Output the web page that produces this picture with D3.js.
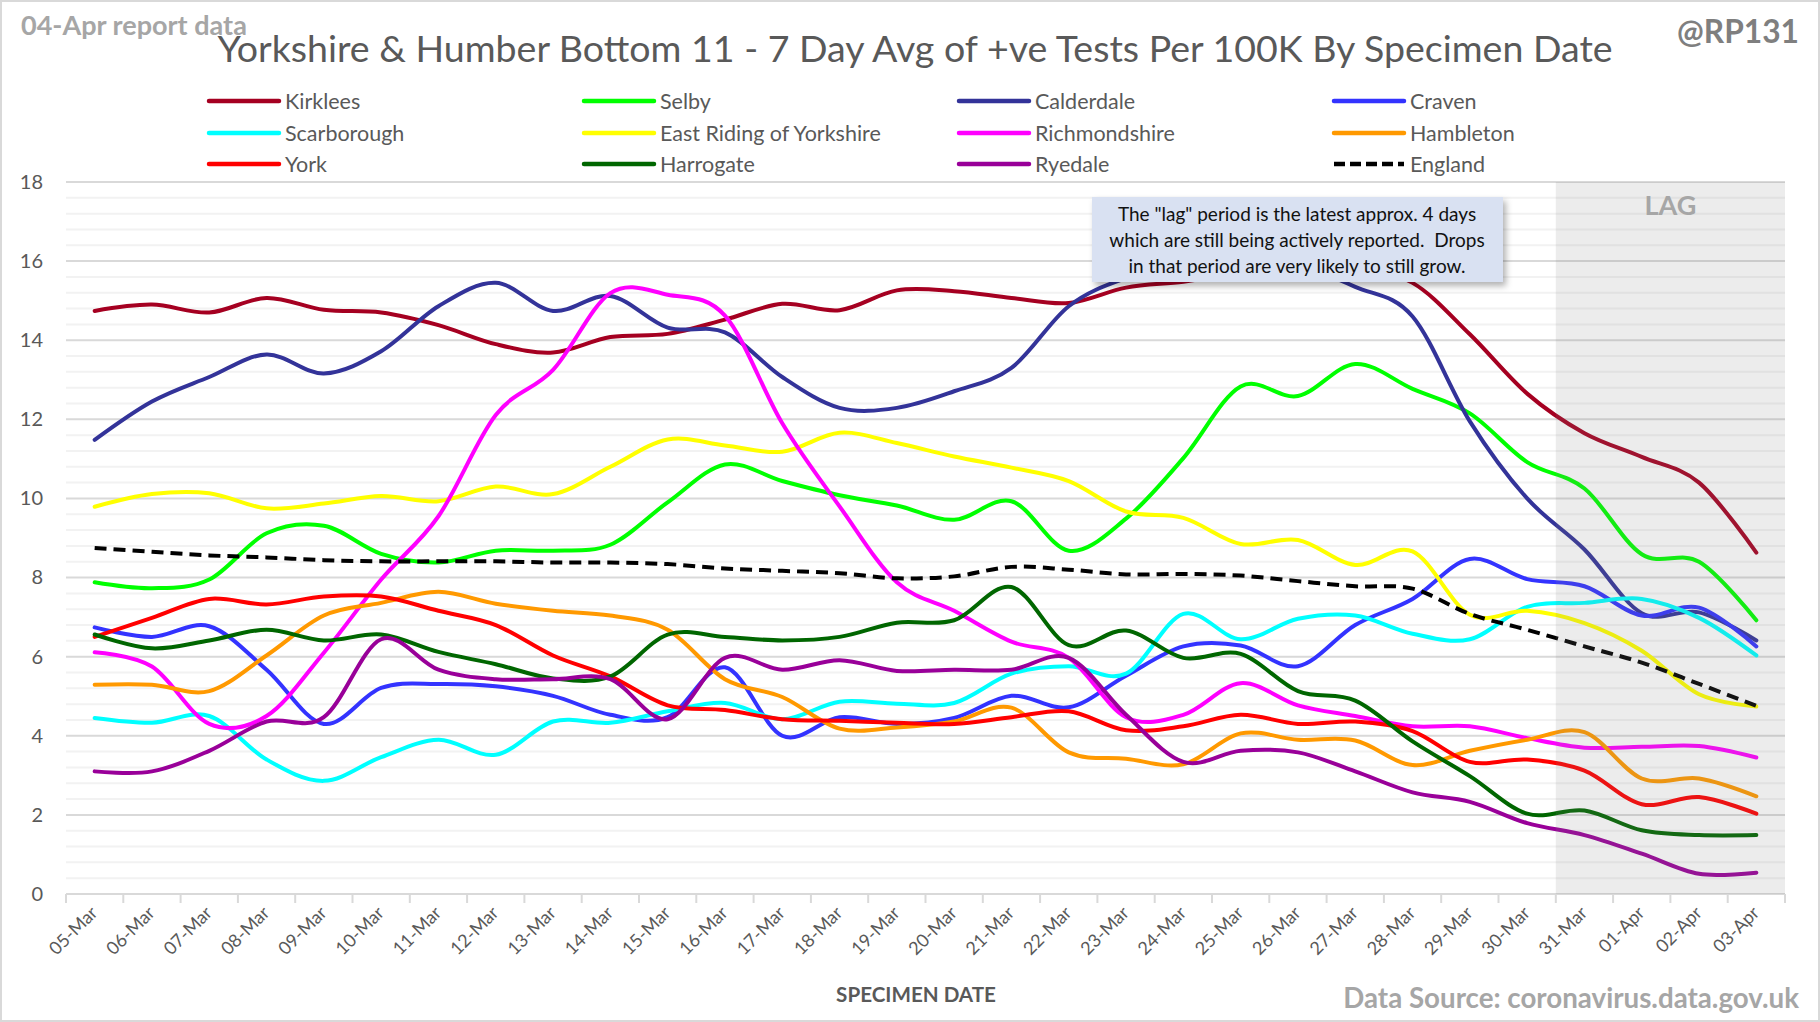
<!DOCTYPE html>
<html>
<head>
<meta charset="utf-8">
<script src="https://cdn.jsdelivr.net/npm/d3@7"></script>
<style>
  body { margin: 0; background: #fff; }
  svg text { font-family: Lato, "Open Sans", sans-serif; }
</style>
</head>
<body>
<div id="chart"></div>
<script>
// specimen dates (x categories)
const dates = ["05-Mar","06-Mar","07-Mar","08-Mar","09-Mar","10-Mar","11-Mar","12-Mar","13-Mar","14-Mar",
  "15-Mar","16-Mar","17-Mar","18-Mar","19-Mar","20-Mar","21-Mar","22-Mar","23-Mar","24-Mar",
  "25-Mar","26-Mar","27-Mar","28-Mar","29-Mar","30-Mar","31-Mar","01-Apr","02-Apr","03-Apr"];

// 7 day avg of +ve tests per 100K
const kirklees    = [14.74,14.9,14.7,15.07,14.77,14.7,14.38,13.9,13.69,14.08,14.16,14.52,14.92,14.76,15.26,15.24,15.07,14.94,15.33,15.48,15.7,15.9,15.8,15.45,14.15,12.65,11.65,11.05,10.4,8.63];
const selby       = [7.88,7.73,7.95,9.12,9.31,8.6,8.38,8.68,8.68,8.83,9.9,10.86,10.44,10.08,9.82,9.46,9.93,8.68,9.49,11.02,12.83,12.59,13.4,12.77,12.15,10.92,10.25,8.59,8.4,6.92];
const calderdale  = [11.48,12.45,13.07,13.64,13.16,13.72,14.86,15.45,14.74,15.12,14.32,14.2,13.07,12.29,12.29,12.71,13.3,14.86,15.57,15.9,16.1,15.9,15.35,14.6,11.95,10.0,8.71,7.1,7.12,6.41];
const craven      = [6.74,6.5,6.77,5.67,4.3,5.21,5.31,5.25,5.01,4.53,4.47,5.73,4.0,4.47,4.3,4.45,5.01,4.72,5.52,6.26,6.28,5.76,6.8,7.46,8.47,7.96,7.78,7.04,7.24,6.26];
const scarborough = [4.45,4.33,4.5,3.4,2.86,3.46,3.9,3.52,4.36,4.33,4.62,4.83,4.42,4.86,4.81,4.83,5.57,5.76,5.57,7.08,6.44,6.96,7.04,6.58,6.44,7.26,7.36,7.46,6.98,6.03];
const eastRiding  = [9.79,10.11,10.13,9.75,9.87,10.06,9.93,10.3,10.11,10.8,11.49,11.34,11.18,11.66,11.4,11.06,10.78,10.44,9.67,9.51,8.85,8.95,8.32,8.66,7.06,7.16,6.85,6.15,5.05,4.74];
const richmond    = [6.11,5.75,4.3,4.5,6.1,7.95,9.55,12.11,13.25,15.19,15.15,14.62,11.9,9.8,7.88,7.16,6.38,5.97,4.47,4.53,5.33,4.77,4.5,4.24,4.24,3.94,3.7,3.72,3.74,3.45];
const hambleton   = [5.29,5.29,5.13,6.03,7.04,7.36,7.64,7.34,7.16,7.04,6.68,5.43,4.98,4.18,4.21,4.36,4.71,3.58,3.42,3.28,4.06,3.9,3.88,3.26,3.62,3.9,4.09,2.92,2.92,2.47];
const york        = [6.5,6.98,7.46,7.32,7.52,7.52,7.16,6.8,6.03,5.5,4.77,4.65,4.42,4.38,4.33,4.3,4.47,4.62,4.14,4.24,4.53,4.3,4.36,4.12,3.34,3.4,3.12,2.27,2.45,2.03];
const harrogate   = [6.56,6.21,6.41,6.68,6.41,6.56,6.12,5.81,5.45,5.5,6.56,6.5,6.41,6.5,6.86,6.92,7.76,6.29,6.66,5.97,6.07,5.13,4.89,3.86,2.98,2.03,2.11,1.61,1.49,1.49];
const ryedale     = [3.1,3.1,3.62,4.36,4.47,6.44,5.67,5.43,5.43,5.43,4.42,5.97,5.67,5.91,5.64,5.67,5.67,5.97,4.53,3.34,3.62,3.58,3.1,2.57,2.33,1.79,1.49,1.02,0.51,0.54];
const england     = [8.75,8.65,8.56,8.51,8.44,8.41,8.41,8.41,8.38,8.38,8.34,8.23,8.17,8.11,7.98,8.03,8.27,8.2,8.08,8.09,8.05,7.91,7.78,7.72,7.08,6.68,6.26,5.85,5.31,4.76];

const yTicks = [0,2,4,6,8,10,12,14,16,18];
const lagDays = ["31-Mar","01-Apr","02-Apr","03-Apr"];

// series in legend / draw order
const series = [
  {name: "Kirklees", values: kirklees, color: "#a50021"},
  {name: "Selby", values: selby, color: "#00ff00"},
  {name: "Calderdale", values: calderdale, color: "#333399"},
  {name: "Craven", values: craven, color: "#3333ff"},
  {name: "Scarborough", values: scarborough, color: "#00ffff"},
  {name: "East Riding of Yorkshire", values: eastRiding, color: "#ffff00"},
  {name: "Richmondshire", values: richmond, color: "#ff00ff"},
  {name: "Hambleton", values: hambleton, color: "#ff9900"},
  {name: "York", values: york, color: "#ff0000"},
  {name: "Harrogate", values: harrogate, color: "#006600"},
  {name: "Ryedale", values: ryedale, color: "#990099"},
  {name: "England", values: england, color: "#000000", dash: "12,7"}
];

const W = 1820, H = 1022;
const margin = {top: 182, right: 35, bottom: 128, left: 66};

const svg = d3.select("#chart").append("svg")
  .attr("width", W)
  .attr("height", H);

// outer border
svg.append("rect")
  .attr("x", 1).attr("y", 1)
  .attr("width", W - 2).attr("height", H - 2)
  .attr("fill", "#fff")
  .attr("stroke", "#d9d9d9")
  .attr("stroke-width", 2);

// scales
const x = d3.scaleBand()
  .domain(dates)
  .range([margin.left, W - margin.right])
  .padding(0);

const y = d3.scaleLinear()
  .domain([0, 18])
  .range([H - margin.bottom, margin.top]);

const cx = d => x(d) + x.bandwidth() / 2;

// shrink/grow a text so that it spans the given width
function fitWidth(sel, w) {
  const cur = sel.node().getComputedTextLength();
  const fs = parseFloat(sel.attr("font-size"));
  sel.attr("font-size", fs * w / cur);
}

// gridlines: minor every 0.4, major every 2
svg.append("g")
  .selectAll("line")
  .data(d3.range(1, 45).map(i => i * 0.4).filter(v => Math.abs(v / 2 - Math.round(v / 2)) > 0.01))
  .join("line")
  .attr("x1", margin.left).attr("x2", W - margin.right)
  .attr("y1", d => y(d)).attr("y2", d => y(d))
  .attr("stroke", "#f2f2f2")
  .attr("stroke-width", 2);

svg.append("g")
  .selectAll("line")
  .data(yTicks)
  .join("line")
  .attr("x1", margin.left).attr("x2", W - margin.right)
  .attr("y1", d => y(d)).attr("y2", d => y(d))
  .attr("stroke", "#d9d9d9")
  .attr("stroke-width", 2);

// y axis labels
const yAxis = d3.axisLeft(y).tickValues(yTicks).tickSize(0).tickPadding(23);
const gy = svg.append("g")
  .attr("transform", "translate(" + margin.left + ",0)")
  .call(yAxis);
gy.select(".domain").remove();
gy.selectAll("text")
  .attr("font-family", "Lato, sans-serif")
  .attr("font-size", 20)
  .attr("fill", "#595959");

// x axis: labels rotated, ticks between categories
const xAxis = d3.axisBottom(x).tickSize(0);
const gx = svg.append("g")
  .attr("transform", "translate(0," + y(0) + ")")
  .call(xAxis);
gx.select(".domain").remove();
gx.selectAll("text")
  .attr("y", 0).attr("dy", null)
  .attr("font-family", "Lato, sans-serif")
  .attr("font-size", 18)
  .attr("fill", "#595959")
  .attr("text-anchor", "end")
  .attr("transform", "translate(4,20) rotate(-45)");

svg.append("line")
  .attr("x1", margin.left).attr("x2", W - margin.right)
  .attr("y1", y(0)).attr("y2", y(0))
  .attr("stroke", "#d9d9d9").attr("stroke-width", 2);

svg.append("g")
  .selectAll("line")
  .data(dates.map(d => x(d)).concat([x.range()[1]]))
  .join("line")
  .attr("x1", d => d).attr("x2", d => d)
  .attr("y1", y(0)).attr("y2", y(0) + 9)
  .attr("stroke", "#d9d9d9").attr("stroke-width", 2);

// lines
const line = d3.line()
  .x((v, i) => cx(dates[i]))
  .y(v => y(v))
  .curve(d3.curveCardinal.tension(0));

svg.append("g")
  .selectAll("path")
  .data(series)
  .join("path")
  .attr("d", d => line(d.values))
  .attr("fill", "none")
  .attr("stroke", d => d.color)
  .attr("stroke-width", 4)
  .attr("stroke-linecap", d => d.dash ? "butt" : "round")
  .attr("stroke-dasharray", d => d.dash || null);

// lag shading on top of the lines
const lagX0 = x(lagDays[0]);
svg.append("rect")
  .attr("x", lagX0)
  .attr("y", y(18))
  .attr("width", x.range()[1] - lagX0)
  .attr("height", y(0) - y(18))
  .attr("fill", "#808080")
  .attr("opacity", 0.15);

svg.append("text")
  .attr("x", (lagX0 + x.range()[1]) / 2)
  .attr("y", 215)
  .attr("text-anchor", "middle")
  .attr("font-size", 27)
  .attr("font-weight", "bold")
  .attr("fill", "#a6a6a6")
  .text("LAG");

// annotation box
const defs = svg.append("defs");
const f = defs.append("filter").attr("id", "shadow")
  .attr("x", "-10%").attr("y", "-10%").attr("width", "130%").attr("height", "140%");
f.append("feDropShadow")
  .attr("dx", 3).attr("dy", 4).attr("stdDeviation", 3)
  .attr("flood-color", "#000").attr("flood-opacity", 0.3);

svg.append("rect")
  .attr("x", 1092).attr("y", 197)
  .attr("width", 411).attr("height", 85)
  .attr("fill", "#d9e1f2")
  .attr("filter", "url(#shadow)");

const note = [
  "The \"lag\" period is the latest approx. 4 days",
  "which are still being actively reported.  Drops",
  "in that period are very likely to still grow."
];
svg.append("g")
  .selectAll("text")
  .data(note)
  .join("text")
  .attr("x", 1297)
  .attr("y", (d, i) => 221 + i * 26)
  .attr("text-anchor", "middle")
  .attr("font-size", 19)
  .attr("fill", "#111")
  .attr("xml:space", "preserve")
  .style("white-space", "pre")
  .text(d => d);

// legend
const legCols = [209, 584, 959, 1334];
const legRows = [101, 133, 164];
const leg = svg.append("g")
  .selectAll("g")
  .data(series)
  .join("g")
  .attr("transform", (d, i) => "translate(" + legCols[i % 4] + "," + legRows[Math.floor(i / 4)] + ")");
leg.append("line")
  .attr("x1", 0).attr("x2", 70)
  .attr("stroke", d => d.color)
  .attr("stroke-width", 4.5)
  .attr("stroke-linecap", d => d.dash ? "butt" : "round")
  .attr("stroke-dasharray", d => d.dash ? "11,5" : null);
leg.append("text")
  .attr("x", 76)
  .attr("dy", "0.35em")
  .attr("font-size", 21.5)
  .attr("fill", "#595959")
  .text(d => d.name);

// titles
const title = svg.append("text")
  .attr("x", 915).attr("y", 62)
  .attr("text-anchor", "middle")
  .attr("font-size", 37)
  .attr("fill", "#595959")
  .text("Yorkshire & Humber Bottom 11 - 7 Day Avg of +ve Tests Per 100K By Specimen Date");
fitWidth(title, 1396);

const rep = svg.append("text")
  .attr("x", 21).attr("y", 35)
  .attr("font-size", 22)
  .attr("font-weight", "bold")
  .attr("fill", "#a6a6a6")
  .text("04-Apr report data");
fitWidth(rep, 226);

const handle = svg.append("text")
  .attr("x", 1799).attr("y", 43)
  .attr("text-anchor", "end")
  .attr("font-size", 24)
  .attr("font-weight", "bold")
  .attr("fill", "#7f7f7f")
  .text("@RP131");
fitWidth(handle, 122);

const xt = svg.append("text")
  .attr("x", 916).attr("y", 1002)
  .attr("text-anchor", "middle")
  .attr("font-size", 18)
  .attr("font-weight", "bold")
  .attr("fill", "#595959")
  .text("SPECIMEN DATE");
fitWidth(xt, 160);

const src = svg.append("text")
  .attr("x", 1799).attr("y", 1008)
  .attr("text-anchor", "end")
  .attr("font-size", 26)
  .attr("font-weight", "bold")
  .attr("fill", "#a6a6a6")
  .text("Data Source: coronavirus.data.gov.uk");
fitWidth(src, 456);
</script>
</body>
</html>
